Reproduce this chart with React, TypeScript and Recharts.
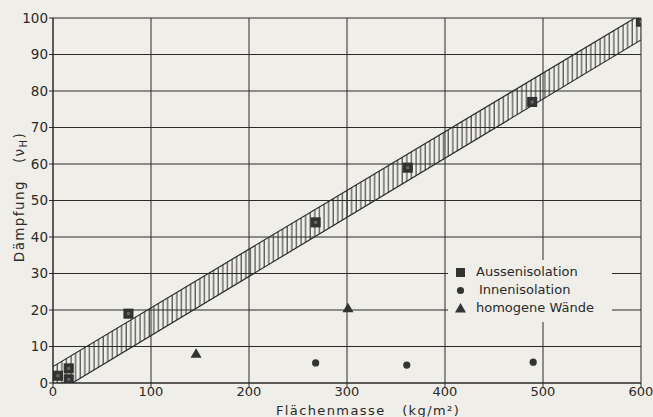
import React from 'react';
import {
  ComposedChart,
  Area,
  Scatter,
  XAxis,
  YAxis,
  CartesianGrid,
  Label,
} from 'recharts';

// band (hatched range)
const bandX = [0, 600];
const bandLow = [-3.2, 94];
const bandHigh = [4.5, 101];

// measured points
const aussenX = [5, 16, 16, 77, 268, 362, 489, 600];
const aussenY = [2, 4, 1, 19, 44, 59, 77, 99];
const innenX = [268, 361, 490];
const innenY = [5.5, 4.9, 5.7];
const homogenX = [146, 301];
const homogenY = [8, 20.5];

const legendNames = ['Aussenisolation', 'Innenisolation', 'homogene Wände'];

const xTicks = [0, 100, 200, 300, 400, 500, 600];
const yTicks = [0, 10, 20, 30, 40, 50, 60, 70, 80, 90, 100];

const bandData = bandX.map((x, i) => ({ x, range: [bandLow[i], bandHigh[i]] }));
const aussen = aussenX.map((x, i) => ({ x, y: aussenY[i] }));
const innen = innenX.map((x, i) => ({ x, y: innenY[i] }));
const homogen = homogenX.map((x, i) => ({ x, y: homogenY[i] }));

const INK = '#2a2a2a';
const PAPER = '#efeee9';
const FONT = '"DejaVu Sans", sans-serif';

const SquareShape = (p: any) => (
  <g>
    <rect x={p.cx - 4.5} y={p.cy - 4.5} width={9} height={9} fill="#333" stroke={INK} strokeWidth={1} />
    <rect x={p.cx - 1.5} y={p.cy - 1.5} width={3} height={3} fill="#666" />
  </g>
);
const CircleShape = (p: any) => <circle cx={p.cx} cy={p.cy} r={3.6} fill="#333" />;
const TriangleShape = (p: any) => (
  <polygon
    points={`${p.cx},${p.cy - 5.5} ${p.cx + 5.5},${p.cy + 4} ${p.cx - 5.5},${p.cy + 4}`}
    fill="#333"
  />
);

const icons = ['sq', 'ci', 'tr'];

const LegendBox = () => (
  <div
    style={{
      position: 'absolute',
      left: 448,
      top: 260,
      background: PAPER,
      width: 158,
      padding: '3px 0 5px 6px',
      fontFamily: FONT,
      fontSize: 13,
      color: INK,
      lineHeight: '18px',
    }}
  >
    {legendNames.map((name, i) => (
      <div key={name} style={{ display: 'flex', alignItems: 'center' }}>
        <svg width={22} height={14}>
          {icons[i] === 'sq' && <rect x={2} y={3} width={9} height={9} fill="#333" />}
          {icons[i] === 'ci' && <circle cx={6.5} cy={7.5} r={3.6} fill="#333" />}
          {icons[i] === 'tr' && <polygon points="6.5,2 12,11.5 1,11.5" fill="#333" />}
        </svg>
        <span style={{ marginLeft: icons[i] === 'ci' ? 3 : 0 }}>{name}</span>
      </div>
    ))}
  </div>
);

export default function App() {
  return (
    <div style={{ position: 'absolute', left: 0, top: 0, width: 653, height: 417, background: PAPER }}>
      <ComposedChart
        width={653}
        height={417}
        data={bandData}
        margin={{ top: 18, right: 12, bottom: 4, left: 0 }}
      >
        <defs>
          <pattern id="hatch" width={4.6} height={10} patternUnits="userSpaceOnUse">
            <line x1={2} y1={0} x2={2} y2={10} stroke={INK} strokeWidth={1} />
          </pattern>
        </defs>
        <CartesianGrid stroke={INK} strokeWidth={1} />
        <XAxis
          type="number"
          dataKey="x"
          domain={[0, 600]}
          ticks={xTicks}
          allowDataOverflow
          height={30}
          stroke={INK}
          tickSize={4}
          tickMargin={0}
          tick={{ fill: INK, fontFamily: FONT, fontSize: 13 }}
        >
          <Label
            content={() => (
              <text x={368} y={415} textAnchor="middle" fill={INK} fontFamily={FONT} fontSize={13} letterSpacing={1.4}>
                Flächenmasse{'\u00a0\u00a0\u00a0'}(kg/m²)
              </text>
            )}
          />
        </XAxis>
        <YAxis
          type="number"
          domain={[0, 100]}
          ticks={yTicks}
          allowDataOverflow
          width={53}
          stroke={INK}
          tickSize={4}
          tickMargin={1}
          tick={{ fill: INK, fontFamily: FONT, fontSize: 13.5 }}
        >
          <Label
            content={() => (
              <text
                transform="translate(24,197) rotate(-90)"
                textAnchor="middle"
                fill={INK}
                fontFamily={FONT}
                fontSize={13.5}
                letterSpacing={1.4}
              >
                Dämpfung{'\u00a0\u00a0\u00a0'}(ν
                <tspan fontSize={10} dy={3}>H</tspan>
                <tspan dy={-3}>)</tspan>
              </text>
            )}
          />
        </YAxis>
        <Area
          type="linear"
          dataKey="range"
          stroke={INK}
          strokeWidth={1.2}
          fill="url(#hatch)"
          fillOpacity={1}
          isAnimationActive={false}
          dot={false}
          activeDot={false}
        />
        <Scatter name={legendNames[0]} data={aussen} dataKey="y" shape={SquareShape} isAnimationActive={false} />
        <Scatter name={legendNames[1]} data={innen} dataKey="y" shape={CircleShape} isAnimationActive={false} />
        <Scatter name={legendNames[2]} data={homogen} dataKey="y" shape={TriangleShape} isAnimationActive={false} />
      </ComposedChart>
      <LegendBox />
    </div>
  );
}
